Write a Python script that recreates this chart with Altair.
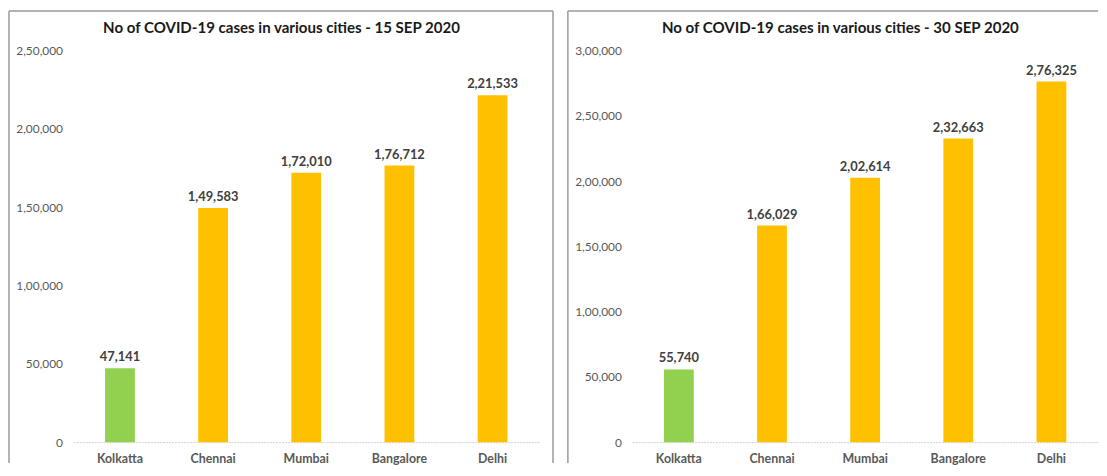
import altair as alt
import pandas as pd

cities = ["Kolkatta", "Chennai", "Mumbai", "Bangalore", "Delhi"]
cases_15_sep = [47141, 149583, 172010, 176712, 221533]
cases_30_sep = [55740, 166029, 202614, 232663, 276325]
bar_colors = ["#92D050", "#FFC000", "#FFC000", "#FFC000", "#FFC000"]
titles = [
    "No of COVID-19 cases in various cities - 15 SEP 2020",
    "No of COVID-19 cases in various cities - 30 SEP 2020",
]
y_max = [250000, 300000]
y_ticks_15 = [0, 50000, 100000, 150000, 200000, 250000]
y_ticks_30 = [0, 50000, 100000, 150000, 200000, 250000, 300000]

FONT = "Lato"
BORDER = "#9a9a9a"

# Indian digit grouping: 2,21,533
def indian_expr(v):
    return (
        f"{v} >= 100000 ? floor({v}/100000) + ',' + "
        f"substring(format({v} % 100000, '05d'), 0, 2) + ',' + "
        f"substring(format({v} % 100000, '05d'), 2, 5) : format({v}, ',')"
    )


def panel(values, ymax, ticks, title, right_edge, has_right_border):
    df = pd.DataFrame({"city": cities, "cases": values})
    base = alt.Chart(df).transform_calculate(
        label=indian_expr("datum.cases")
    ).encode(
        x=alt.X(
            "city:N",
            sort=cities,
            title=None,
            scale=alt.Scale(paddingInner=0.68, paddingOuter=0.34),
            axis=alt.Axis(
                labelAngle=0,
                labelFont=FONT,
                labelFontSize=12.5,
                labelFontWeight="bold",
                labelColor="#595959",
                labelPadding=11,
                ticks=False,
                domainColor="#d0d0d0",
                domainWidth=1,
                domainDash=[2, 1],
            ),
        ),
        y=alt.Y(
            "cases:Q",
            title=None,
            scale=alt.Scale(domain=[0, ymax], nice=False),
            axis=alt.Axis(
                values=ticks,
                grid=False,
                domain=False,
                ticks=False,
                labelFont=FONT,
                labelFontSize=12,
                labelColor="#595959",
                labelPadding=11,
                labelExpr=indian_expr("datum.value"),
            ),
        ),
    )
    bars = base.mark_bar().encode(
        color=alt.Color(
            "city:N",
            scale=alt.Scale(domain=cities, range=bar_colors),
            legend=None,
        )
    )
    labels = base.mark_text(
        font=FONT, fontSize=13, fontWeight="bold", color="#404040",
        baseline="bottom", dy=-4,
    ).encode(text="label:N")

    deco_df = pd.DataFrame({"t": [title]})
    deco = alt.Chart(deco_df)
    ttl = deco.mark_text(
        font=FONT, fontSize=15.2, fontWeight="bold", color="#1a1a1a",
        baseline="middle", align="center",
    ).encode(x=alt.value(210), y=alt.value(-23), text="t:N")
    left_line = deco.mark_rule(color=BORDER, strokeWidth=1.5).encode(
        x=alt.value(-65), y=alt.value(-40), y2=alt.value(416)
    )
    top_line = deco.mark_rule(color=BORDER, strokeWidth=1.5).encode(
        x=alt.value(-65), x2=alt.value(right_edge), y=alt.value(-40)
    )
    layers = [bars, labels, ttl, left_line, top_line]
    if has_right_border:
        right_line = deco.mark_rule(color=BORDER, strokeWidth=1.5).encode(
            x=alt.value(right_edge), y=alt.value(-40), y2=alt.value(416)
        )
        layers.append(right_line)
    return alt.layer(*layers).properties(width=470, height=395)


left = panel(cases_15_sep, y_max[0], y_ticks_15, titles[0], 484, True)
right = panel(cases_30_sep, y_max[1], y_ticks_30, titles[1], 470, False)

chart = (
    alt.hconcat(left, right, spacing=13)
    .resolve_scale(y="independent")
    .properties(padding=0)
    .configure_view(stroke=None)
)

chart.save("out.html", embed_options={"renderer": "svg", "actions": False})
